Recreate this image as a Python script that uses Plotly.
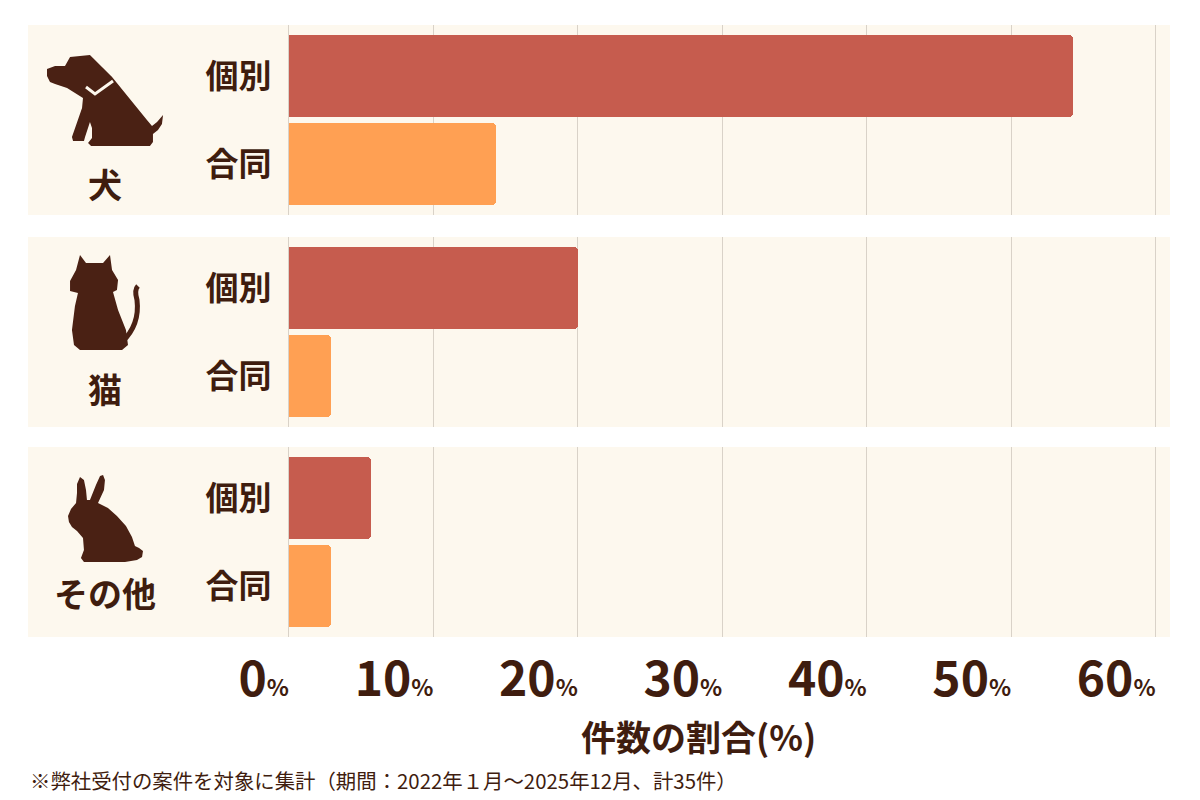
import plotly.graph_objects as go
from plotly.subplots import make_subplots

# data (share of 35 cases, %)
animals = ["犬", "猫", "その他"]
kinds = ["個別", "合同"]
individual = [54.3, 20.0, 5.7]
joint = [14.3, 2.9, 2.9]
x_ticks = [0, 10, 20, 30, 40, 50, 60]
x_title = "件数の割合(%)"
note = "※弊社受付の案件を対象に集計（期間：2022年１月～2025年12月、計35件）"

W, H = 1200, 800
OFF = 8  # page body margin
TEXT = "#3f1d0f"
ICON = "#4a2114"
RED = "#c65c4e"
ORANGE = "#ffa053"
PANEL = "#fdf8ee"
GRID = "#d9d2c8"
FONT = "Noto Sans CJK JP"


def px(x):
    return (x - OFF) / W


def py(y):
    return 1 - (y - OFF) / H


def pt(x, y):
    return f"{px(x):.4f},{py(y):.4f}"


def poly(points):
    return "M " + " L ".join(pt(x, y) for x, y in points) + " Z"


panels = [(25, 215), (237, 427), (447, 637)]
label_y = [183, 388, 592]

fig = make_subplots(rows=3, cols=1)

for i, animal in enumerate(animals):
    fig.add_trace(go.Bar(
        x=[individual[i], joint[i]],
        y=kinds,
        orientation="h",
        width=0.93,
        marker=dict(color=[RED, ORANGE], cornerradius=4, line=dict(width=0)),
        showlegend=False,
        hoverinfo="x+y",
    ), row=i + 1, col=1)

    top, bottom = panels[i]
    fig.update_yaxes(
        domain=[py(bottom), py(top)],
        range=[1.58, -0.58],
        tickfont=dict(family=FONT, size=33, color=TEXT, weight=700),
        ticklabelstandoff=10,
        showgrid=False, zeroline=False,
        showline=True, linecolor=GRID, linewidth=1,
        automargin=False,
        row=i + 1, col=1,
    )
    fig.update_xaxes(
        domain=[px(289), px(1157)],
        range=[0, 60.1],
        tickvals=x_ticks,
        ticktext=[f"{v}<span style='font-size:23px'>%</span>" for v in x_ticks],
        showticklabels=(i == 2),
        ticklabelposition="outside left",
        ticklabelstandoff=10,
        tickfont=dict(family=FONT, size=48, color=TEXT, weight=700),
        showgrid=True, gridcolor=GRID, gridwidth=1,
        zeroline=False, showline=False,
        automargin=False,
        row=i + 1, col=1,
    )

    fig.add_shape(type="rect", xref="paper", yref="paper",
                  x0=px(28), x1=px(1170), y0=py(bottom), y1=py(top),
                  fillcolor=PANEL, line=dict(width=0), layer="below")

    fig.add_annotation(text=animal, xref="paper", yref="paper",
                       x=px(105), y=py(label_y[i]), xanchor="center", yanchor="middle",
                       showarrow=False,
                       font=dict(family=FONT, size=34, color=TEXT, weight=700))

# icons (pixel outlines)
dog = [(47, 69), (55, 66), (65, 66), (70, 57), (90, 55), (112, 77), (147, 120),
       (152, 126), (157, 122), (163, 115), (162, 124), (158, 130), (153, 134),
       (153, 142), (150, 146), (91, 146), (88, 143), (92, 138), (92, 128),
       (90, 122), (85, 137), (84, 141), (73, 141), (72, 137), (82, 108),
       (83, 98), (67, 88), (55, 84), (50, 82), (47, 76)]
cat = [(80, 255), (86, 263), (103, 263), (110, 255), (112, 270), (118, 280),
       (117, 290), (113, 292), (118, 310), (126, 330), (128, 345), (122, 350),
       (80, 350), (74, 345), (72, 330), (75, 306), (78, 293), (70, 291),
       (70, 281), (76, 270)]
rabbit = [(80, 477), (84, 480), (86, 490), (87, 500), (90, 500), (96, 485),
          (100, 476), (103, 475), (105, 480), (104, 490), (98, 503), (108, 508),
          (117, 516), (126, 526), (132, 537), (135, 546), (139, 548), (143, 551),
          (142, 557), (137, 560), (125, 562), (84, 562), (81, 558), (84, 550),
          (83, 538), (77, 531), (72, 527), (69, 522), (68, 516), (71, 509),
          (76, 503), (77, 493), (77, 484)]
for shape in (dog, cat, rabbit):
    fig.add_shape(type="path", xref="paper", yref="paper", path=poly(shape),
                  fillcolor=ICON, line=dict(width=0))

# dog collar and cat tail
fig.add_shape(type="path", xref="paper", yref="paper",
              path=f"M {pt(86, 87)} L {pt(95, 94)} L {pt(113, 81)}",
              line=dict(color=PANEL, width=3))
fig.add_shape(type="path", xref="paper", yref="paper",
              path=f"M {pt(122, 342)} Q {pt(140, 325)} {pt(137, 300)} Q {pt(134, 290)} {pt(138, 286)}",
              line=dict(color=ICON, width=5))

fig.add_annotation(text=x_title, xref="paper", yref="paper",
                   x=px(698), y=py(735), xanchor="center", yanchor="middle",
                   showarrow=False,
                   font=dict(family=FONT, size=35, color=TEXT, weight=700))
fig.add_annotation(text=note, xref="paper", yref="paper",
                   x=px(28), y=py(780), xanchor="left", yanchor="middle",
                   showarrow=False,
                   font=dict(family=FONT, size=20.4, color=TEXT))

fig.update_layout(
    width=W, height=H,
    margin=dict(l=0, r=0, t=0, b=0),
    paper_bgcolor="white",
    plot_bgcolor="rgba(0,0,0,0)",
    bargap=0,
)

fig.write_html("out.html")
